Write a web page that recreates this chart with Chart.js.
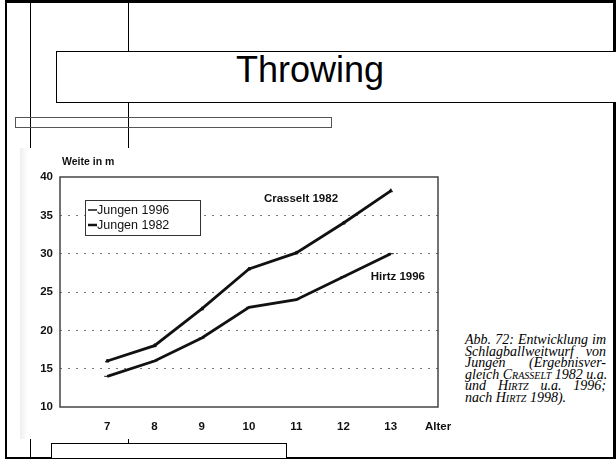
<!DOCTYPE html>
<html>
<head>
<meta charset="utf-8">
<script src="https://cdn.jsdelivr.net/npm/chart.js@4.4.0/dist/chart.umd.min.js"></script>
<style>
    html, body { margin: 0; padding: 0; background: #fff; }
    body { width: 616px; height: 466px; position: relative; overflow: hidden; font-family: 'Liberation Sans', Arial, sans-serif; }
    .abs { position: absolute; box-sizing: border-box; }
    .frame { left: 5px; top: 0; width: 611px; height: 459px; border: 2px solid #000; border-right-width: 3px; border-top-width: 3px; }
    .vline { width: 1px; background: #000; }
    .bar { left: 15px; top: 117px; width: 317px; height: 11px; border: 1px solid #555; }
    .title-box { left: 56px; top: 51px; width: 560px; height: 52px; border: 1px solid #000; border-right: none; background: #fff; }
    .title { left: 236px; top: 49px; font-size: 36px; color: #000; white-space: nowrap; }
    .scan { left: 20px; top: 148px; width: 593px; height: 291px; background: linear-gradient(to right, #eee 0px, #f7f7f7 4px, #fff 8px); }
    .bottom-box { left: 51px; top: 443px; width: 236px; height: 15px; border: 1px solid #000; border-bottom: none; background: #fff; }
    .caption { left: 465px; top: 334px; width: 141px; font-family: 'Liberation Serif', 'Times New Roman', serif; font-style: italic; font-size: 14px; line-height: 11.6px; color: #000; }
    .caption div { text-align: justify; text-align-last: justify; white-space: nowrap; }
    .caption div.last { text-align-last: left; }
    .sc { font-variant: small-caps; }
</style>
</head>
<body>
<div class="abs frame"></div>
<div class="abs vline" style="left:30px; top:0; height:458px;"></div>
<div class="abs vline" style="left:128px; top:0; height:458px;"></div>
<div class="abs bar"></div>
<div class="abs title-box"></div>
<div class="abs title">Throwing</div>
<div class="abs scan"></div>
<canvas id="weiteChart" class="abs" style="left:20px; top:148px;" width="440" height="291"></canvas>
<div class="abs caption">
    <div>Abb. 72: Entwicklung im</div>
    <div>Schlagballweitwurf von</div>
    <div>Jungen (Ergebnisver-</div>
    <div>gleich <span class="sc">Crasselt</span> 1982 u.a.</div>
    <div>und <span class="sc">Hirtz</span> u.a. 1996;</div>
    <div class="last">nach <span class="sc">Hirtz</span> 1998).</div>
</div>
<div class="abs bottom-box"></div>

<script>
// Data
const ages = [7, 8, 9, 10, 11, 12, 13];
const jungen1996 = [14, 16, 19, 23, 24, 27, 30];
const jungen1982 = [16, 18, 22.8, 28, 30.1, 34, 38.2];
const seriesLabels = ['Jungen 1996', 'Jungen 1982'];

const yTicks = [10, 15, 20, 25, 30, 35, 40];
const xEndLabel = 'Alter';
const yAxisTitle = 'Weite in m';

// Text written next to the lines
const noteTexts = ['Crasselt 1982', 'Hirtz 1996'];
const noteX = [11.1, 13.15];
const noteY = [37.1, 27];

const ink = '#111';

function toPoints(values) {
    return ages.map((a, i) => ({ x: a, y: values[i] }));
}

// frame, y title, boxed legend and line notes
const scanDecor = {
    id: 'scanDecor',
    afterDraw(chart) {
        const ctx = chart.ctx;
        const area = chart.chartArea;
        const xs = chart.scales.x;
        const ys = chart.scales.y;
        ctx.save();

        // plot frame
        ctx.strokeStyle = '#444';
        ctx.lineWidth = 1.5;
        ctx.strokeRect(area.left, area.top, area.right - area.left, area.bottom - area.top);

        // y axis title
        ctx.fillStyle = ink;
        ctx.font = 'bold 10.5px "Liberation Sans", Arial, sans-serif';
        ctx.textAlign = 'left';
        ctx.textBaseline = 'middle';
        ctx.fillText(yAxisTitle, area.left + 2, area.top - 15);

        // legend box
        const lx = area.left + 25, ly = area.top + 23;
        ctx.fillStyle = '#fff';
        ctx.fillRect(lx, ly, 115, 35);
        ctx.strokeStyle = '#333';
        ctx.lineWidth = 1;
        ctx.strokeRect(lx + 0.5, ly + 0.5, 115, 35);
        ctx.font = '12.5px "Liberation Sans", Arial, sans-serif';
        chart.data.datasets.forEach((ds, i) => {
            const yy = ly + 10 + i * 15;
            ctx.strokeStyle = ink;
            ctx.lineWidth = i === 0 ? 1.5 : 2.5;
            ctx.beginPath();
            ctx.moveTo(lx + 3, yy);
            ctx.lineTo(lx + 12, yy);
            ctx.stroke();
            ctx.fillStyle = ink;
            ctx.fillText(ds.label, lx + 12, yy + 1);
        });

        // notes beside the lines
        ctx.font = 'bold 11.5px "Liberation Sans", Arial, sans-serif';
        ctx.textAlign = 'center';
        noteTexts.forEach((t, i) => {
            ctx.fillText(t, xs.getPixelForValue(noteX[i]), ys.getPixelForValue(noteY[i]));
        });
        ctx.restore();
    }
};

new Chart(document.getElementById('weiteChart'), {
    type: 'line',
    data: {
        datasets: [
            {
                label: seriesLabels[0],
                data: toPoints(jungen1996),
                borderColor: ink,
                backgroundColor: ink,
                borderWidth: 2.8,
                tension: 0,
                pointStyle: 'line',
                pointRadius: 3,
                pointBorderWidth: 1
            },
            {
                label: seriesLabels[1],
                data: toPoints(jungen1982),
                borderColor: ink,
                backgroundColor: ink,
                borderWidth: 2.8,
                tension: 0,
                pointStyle: 'triangle',
                pointRadius: 2,
                pointBorderWidth: 1
            }
        ]
    },
    options: {
        responsive: false,
        animation: false,
        layout: { padding: { top: 29, left: 0, right: 22, bottom: 0 } },
        plugins: {
            legend: { display: false },
            tooltip: { enabled: false }
        },
        scales: {
            x: {
                type: 'linear',
                min: 6,
                max: 14,
                afterFit: s => { s.height = 32; },
                grid: { display: false },
                border: { display: false },
                ticks: {
                    stepSize: 1,
                    padding: 5,
                    maxRotation: 0,
                    color: ink,
                    font: { family: 'Liberation Sans', size: 11.5, weight: 'bold' },
                    callback: v => v === 6 ? '' : (v === 14 ? xEndLabel : v)
                }
            },
            y: {
                min: yTicks[0],
                max: yTicks[yTicks.length - 1],
                afterFit: s => { s.width = 40; },
                afterBuildTicks: s => { s.ticks = yTicks.map(v => ({ value: v })); },
                grid: {
                    drawTicks: false,
                    color: c => (c.tick && (c.tick.value === 10 || c.tick.value === 40)) ? 'rgba(0,0,0,0)' : '#777',
                    lineWidth: 1
                },
                border: { display: false, dash: [2, 6] },
                ticks: {
                    padding: 7,
                    color: ink,
                    font: { family: 'Liberation Sans', size: 11.5, weight: 'bold' }
                }
            }
        }
    },
    plugins: [scanDecor]
});
</script>
</body>
</html>
